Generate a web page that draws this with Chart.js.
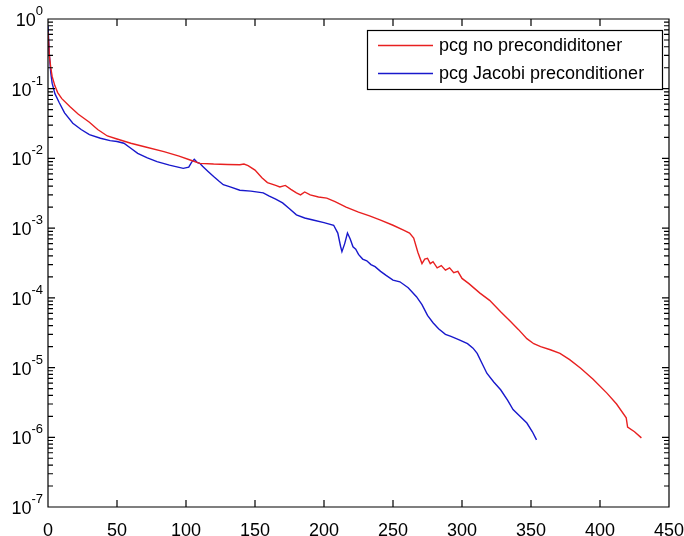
<!DOCTYPE html>
<html>
<head>
<meta charset="utf-8">
<title>pcg residual</title>
<script src="https://cdn.jsdelivr.net/npm/chart.js@4/dist/chart.umd.min.js"></script>
<style>
  html, body { margin: 0; padding: 0; background: #ffffff; }
  #wrap { width: 684px; height: 536px; position: relative; }
</style>
</head>
<body>
<div id="wrap"><canvas id="residualChart"></canvas></div>
<script>
// iteration numbers and relative residuals, pcg without preconditioner
const plainIter = [0, 1, 2, 3, 5, 7, 10, 16, 22, 30, 36, 43, 50, 60, 70, 84, 95, 103, 110, 120,
  130, 139, 142, 145, 150, 155, 159, 165, 168, 172, 176, 180, 183, 186, 190, 196, 202, 208, 216, 225,
  233, 241, 250, 258, 262, 265, 268, 271, 273, 275, 277, 279, 282, 285, 288, 291, 294, 297, 300, 305,
  313, 320, 328, 335, 341, 347, 352, 357, 364, 371, 378, 386, 395, 405, 412, 419, 420, 425, 430];
const plainResidual = [0.65, 0.30, 0.2, 0.15, 0.11, 0.088, 0.072, 0.055, 0.043, 0.033, 0.026, 0.021, 0.019, 0.0165, 0.0147, 0.0125, 0.0108, 0.0095, 0.0085, 0.0083,
  0.0082, 0.0081, 0.0083, 0.0079, 0.0068, 0.0053, 0.0045, 0.0041, 0.0039, 0.0041, 0.0036, 0.0032, 0.0030, 0.0033, 0.0030, 0.0028, 0.0027, 0.0024, 0.0020, 0.0017,
  0.0015, 0.0013, 0.0011, 0.00093, 0.00085, 0.00072, 0.00045, 0.00031, 0.00036, 0.00037, 0.00031, 0.00033, 0.00027, 0.00029, 0.00025, 0.00027, 0.00023, 0.00024, 0.00019, 0.00016,
  1.17e-4, 9.2e-5, 6.3e-5, 4.6e-5, 3.5e-5, 2.6e-5, 2.2e-5, 2.0e-5, 1.8e-5, 1.6e-5, 1.3e-5, 9.8e-6, 6.8e-6, 4.3e-6, 3.0e-6, 1.9e-6, 1.4e-6, 1.2e-6, 9.8e-7];

// pcg with Jacobi preconditioner
const jacobiIter = [0, 1, 2, 3, 5, 8, 12, 18, 24, 30, 38, 45, 50, 55, 60, 65, 72, 79, 88, 98,
  102, 104, 106, 108, 110, 112, 116, 120, 124, 127, 132, 139, 147, 156, 160, 165, 170, 175, 180, 186,
  192, 200, 207, 210, 212, 213, 215, 217, 219, 221, 223, 225, 228, 231, 234, 237, 241, 245, 250, 255,
  261, 267, 271, 275, 279, 283, 288, 292, 298, 304, 308, 311, 315, 318, 323, 328, 333, 337, 342, 347,
  351, 354];
const jacobiResidual = [0.8, 0.3, 0.17, 0.12, 0.085, 0.064, 0.045, 0.032, 0.026, 0.022, 0.0195, 0.018, 0.0175, 0.0165, 0.014, 0.0118, 0.0102, 0.009, 0.008, 0.0072,
  0.0075, 0.0088, 0.0097, 0.0088, 0.0085, 0.0077, 0.0065, 0.0055, 0.0047, 0.0042, 0.0039, 0.0035, 0.0034, 0.0032, 0.0029, 0.0026, 0.0023, 0.0019, 0.00155, 0.0014,
  0.00131, 0.0012, 0.0011, 0.00085, 0.00055, 0.00046, 0.0006, 0.00085, 0.0007, 0.00054, 0.0005, 0.00042, 0.00036, 0.00034, 0.0003, 0.00028, 0.00024, 0.00021, 0.00018, 0.00017,
  1.4e-4, 1.04e-4, 8.0e-5, 5.6e-5, 4.4e-5, 3.6e-5, 3.0e-5, 2.8e-5, 2.5e-5, 2.2e-5, 1.9e-5, 1.6e-5, 1.1e-5, 8.3e-6, 6.2e-6, 4.8e-6, 3.4e-6, 2.5e-6, 2.0e-6, 1.6e-6,
  1.2e-6, 9.2e-7];

const seriesLabels = ["pcg no precondiditoner", "pcg Jacobi preconditioner"];
const seriesColors = ["#e82020", "#1818cc"];

const xTickValues = [0, 50, 100, 150, 200, 250, 300, 350, 400, 450];
const yExponents = [-7, -6, -5, -4, -3, -2, -1, 0];

const fontFamily = "'Liberation Sans', Arial, sans-serif";

function toPoints(xs, ys) {
  return xs.map((x, i) => ({ x: x, y: ys[i] }));
}

// box around the axes with inward ticks, log minor ticks and 10^n labels
const axesFrame = {
  id: "axesFrame",
  afterDraw(chart) {
    const c = chart.ctx;
    const area = chart.chartArea;
    const xs = chart.scales.x;
    const ys = chart.scales.y;
    const left = area.left;
    const right = area.right;
    const top = area.top;
    const bottom = area.bottom;

    c.save();
    c.strokeStyle = "#000000";
    c.lineWidth = 1.2;
    c.lineCap = "butt";
    c.beginPath();
    // frame
    c.moveTo(left, top);
    c.lineTo(right, top);
    c.lineTo(right, bottom);
    c.lineTo(left, bottom);
    c.closePath();

    // major ticks, pointing inwards
    xTickValues.forEach((v) => {
      const px = xs.getPixelForValue(v);
      c.moveTo(px, bottom);
      c.lineTo(px, bottom - 7);
      c.moveTo(px, top);
      c.lineTo(px, top + 7);
    });

    yExponents.forEach((e) => {
      const py = ys.getPixelForValue(Math.pow(10, e));
      c.moveTo(left, py);
      c.lineTo(left + 7, py);
      c.moveTo(right, py);
      c.lineTo(right - 7, py);
      if (e < 0) {
        for (let m = 2; m <= 9; m++) {
          const my = ys.getPixelForValue(m * Math.pow(10, e));
          c.moveTo(left, my);
          c.lineTo(left + 5, my);
          c.moveTo(right, my);
          c.lineTo(right - 5, my);
        }
      }
    });
    c.stroke();

    // y labels as 10 with a raised exponent
    c.fillStyle = "#000000";
    c.textBaseline = "alphabetic";
    yExponents.forEach((e) => {
      const py = ys.getPixelForValue(Math.pow(10, e));
      const exp = String(e);
      c.font = "13px " + fontFamily;
      const expWidth = c.measureText(exp).width;
      const expX = left - 5 - expWidth;
      c.textAlign = "left";
      c.fillText(exp, expX, py - 4);
      c.font = "18px " + fontFamily;
      c.textAlign = "right";
      c.fillText("10", expX, py + 7);
    });
    c.restore();
  },
};

// legend box drawn inside the axes, top right
const insideLegend = {
  id: "insideLegend",
  afterDraw(chart) {
    const c = chart.ctx;
    c.save();
    c.fillStyle = "#ffffff";
    c.fillRect(367, 30, 295, 59);
    c.strokeStyle = "#000000";
    c.lineWidth = 1.2;
    c.strokeRect(367.5, 30.5, 295, 59);
    c.font = "18px " + fontFamily;
    c.textAlign = "left";
    c.textBaseline = "middle";
    chart.data.datasets.forEach((ds, i) => {
      const rowY = 45.5 + i * 28;
      c.strokeStyle = ds.borderColor;
      c.lineWidth = 1.3;
      c.beginPath();
      c.moveTo(378, rowY);
      c.lineTo(433, rowY);
      c.stroke();
      c.fillStyle = "#000000";
      c.fillText(ds.label, 439, rowY + 1);
    });
    c.restore();
  },
};

const ctx = document.getElementById("residualChart").getContext("2d");
const chart = new Chart(ctx, {
  type: "line",
  data: {
    datasets: [
      {
        label: seriesLabels[0],
        data: toPoints(plainIter, plainResidual),
        borderColor: seriesColors[0],
        borderWidth: 1.4,
        pointRadius: 0,
        tension: 0,
        fill: false,
      },
      {
        label: seriesLabels[1],
        data: toPoints(jacobiIter, jacobiResidual),
        borderColor: seriesColors[1],
        borderWidth: 1.4,
        pointRadius: 0,
        tension: 0,
        fill: false,
      },
    ],
  },
  options: {
    responsive: true,
    maintainAspectRatio: false,
    animation: false,
    layout: { padding: { left: 0, top: 19, right: 15, bottom: 0 } },
    plugins: {
      legend: { display: false },
      tooltip: { enabled: false },
    },
    scales: {
      x: {
        type: "linear",
        min: 0,
        max: 450,
        grid: { display: false },
        border: { display: false },
        afterBuildTicks: (scale) => {
          scale.ticks = xTickValues.map((v) => ({ value: v }));
        },
        afterFit: (scale) => {
          scale.height = 29;
          scale.paddingLeft = 0;
          scale.paddingRight = 0;
        },
        ticks: {
          color: "#000000",
          padding: 5,
          maxRotation: 0,
          autoSkip: false,
          font: { family: fontFamily, size: 18 },
        },
      },
      y: {
        type: "logarithmic",
        min: 1e-7,
        max: 1,
        grid: { display: false },
        border: { display: false },
        afterBuildTicks: (scale) => {
          scale.ticks = yExponents.map((e) => ({ value: Math.pow(10, e) }));
        },
        afterFit: (scale) => {
          scale.width = 48;
          scale.paddingTop = 0;
          scale.paddingBottom = 0;
        },
        ticks: { display: false },
      },
    },
  },
  plugins: [axesFrame, insideLegend],
});
</script>
</body>
</html>
